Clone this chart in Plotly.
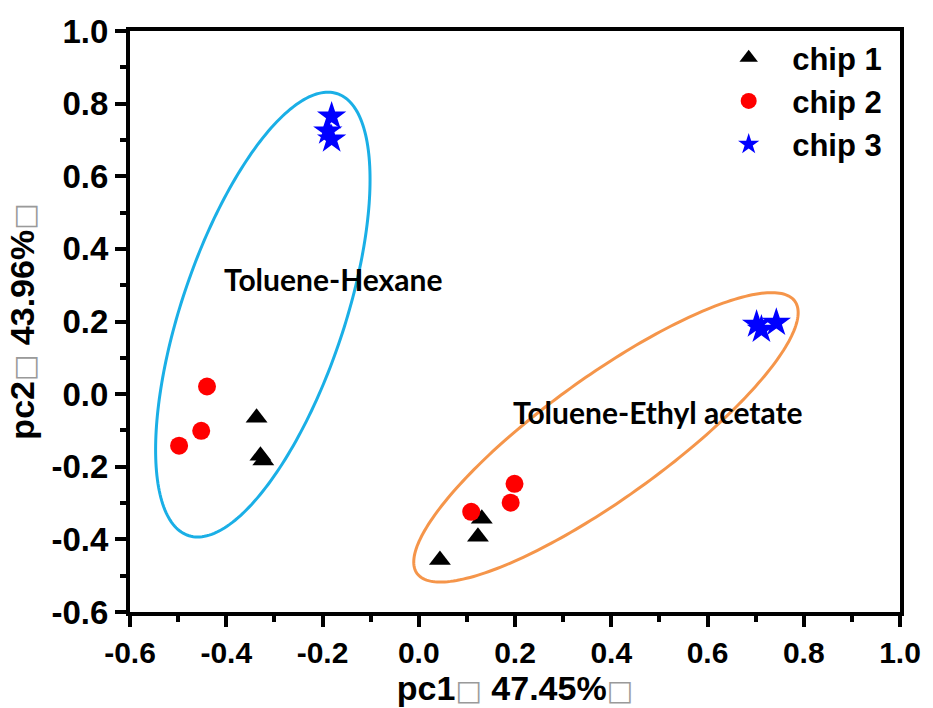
import numpy as np
import plotly.graph_objects as go

# ---- data ----
chip1_x = [-0.337, -0.329, -0.323, 0.044, 0.123, 0.131]
chip1_y = [-0.065, -0.170, -0.183, -0.457, -0.393, -0.343]
chip2_x = [-0.440, -0.452, -0.498, 0.199, 0.191, 0.109]
chip2_y = [0.021, -0.101, -0.142, -0.247, -0.299, -0.324]
chip3_x = [-0.181, -0.189, -0.181, 0.702, 0.712, 0.743]
chip3_y = [0.765, 0.724, 0.702, 0.192, 0.178, 0.197]
series_names = ["chip 1", "chip 2", "chip 3"]

x_tick_vals = [-0.6, -0.4, -0.2, 0.0, 0.2, 0.4, 0.6, 0.8, 1.0]
x_tick_text = ["-0.6", "-0.4", "-0.2", "0.0", "0.2", "0.4", "0.6", "0.8", "1.0"]
y_tick_vals = [-0.6, -0.4, -0.2, 0.0, 0.2, 0.4, 0.6, 0.8, 1.0]
y_tick_text = ["-0.6", "-0.4", "-0.2", "0.0", "0.2", "0.4", "0.6", "0.8", "1.0"]

# group ellipses: centre and two conjugate half-vectors (data units)
group_labels = ["Toluene-Hexane", "Toluene-Ethyl acetate"]
label_x = [-0.179, 0.497]
label_y = [0.316, -0.048]
ell_cx = [-0.324, 0.389]
ell_cy = [0.219, -0.119]
ell_v1 = [(0.2228, 0.3719), (0.3994, 0.3434)]
ell_v2 = [(0.0, 0.4866), (0.0, 0.2022)]
ell_colors = ["#1AAFE6", "#F5954A"]

fig = go.Figure()
fig.add_trace(go.Scatter(x=chip1_x, y=chip1_y, mode="markers", name=series_names[0],
                         marker=dict(symbol="triangle-up", size=19, color="black")))
fig.add_trace(go.Scatter(x=chip2_x, y=chip2_y, mode="markers", name=series_names[1],
                         marker=dict(symbol="circle", size=18, color="#FF0000")))
fig.add_trace(go.Scatter(x=chip3_x, y=chip3_y, mode="markers", name=series_names[2],
                         marker=dict(symbol="star", size=22, color="#0000FF", line=dict(width=0))))

t = np.linspace(0, 2 * np.pi, 241)
for i in range(2):
    px = ell_cx[i] + np.cos(t) * ell_v1[i][0] + np.sin(t) * ell_v2[i][0]
    py = ell_cy[i] + np.cos(t) * ell_v1[i][1] + np.sin(t) * ell_v2[i][1]
    path = "M " + " L ".join(f"{a:.5f},{b:.5f}" for a, b in zip(px, py)) + " Z"
    fig.add_shape(type="path", path=path, xref="x", yref="y",
                  line=dict(color=ell_colors[i], width=3), layer="below")
    fig.add_annotation(x=label_x[i], y=label_y[i], text=group_labels[i], showarrow=False,
                       font=dict(family="Lato", size=30, color="black", weight="bold"))

box = "<span style='color:#9a9a9a;font-weight:normal;font-family:DejaVu Sans;font-size:28px'>\u25A1</span>"
axis_common = dict(showline=True, linewidth=4, linecolor="black", mirror=True,
                   ticks="outside", ticklen=11, tickwidth=4, tickcolor="black",
                   showgrid=False, zeroline=False,
                   minor=dict(ticks="outside", ticklen=6, tickwidth=4, tickcolor="black", dtick=0.1))

fig.update_xaxes(range=[-0.6, 1.0], tickvals=x_tick_vals, ticktext=x_tick_text,
                 tickfont=dict(family="Liberation Sans", size=30, color="black", weight="bold"),
                 title=dict(text="pc1" + box + " 47.45%" + box, standoff=3,
                            font=dict(family="Liberation Sans", size=34, color="black", weight="bold")),
                 **axis_common)
fig.update_yaxes(range=[-0.6, 1.0], tickvals=y_tick_vals, ticktext=y_tick_text,
                 tickfont=dict(family="Liberation Sans", size=33, color="black", weight="bold"),
                 title=dict(text="pc2" + box + " 43.96%" + box, standoff=8,
                            font=dict(family="Liberation Sans", size=34, color="black", weight="bold")),
                 **axis_common)

fig.update_layout(
    width=933, height=708,
    margin=dict(l=130, r=25, t=31, b=96),
    plot_bgcolor="white", paper_bgcolor="white",
    legend=dict(x=0.747, y=1.0, xanchor="left", yanchor="top", bgcolor="rgba(0,0,0,0)",
                font=dict(family="Liberation Sans", size=31, color="black", weight="bold"),
                itemwidth=77, tracegroupgap=0),
    showlegend=True,
)

fig.write_html("out.html")
